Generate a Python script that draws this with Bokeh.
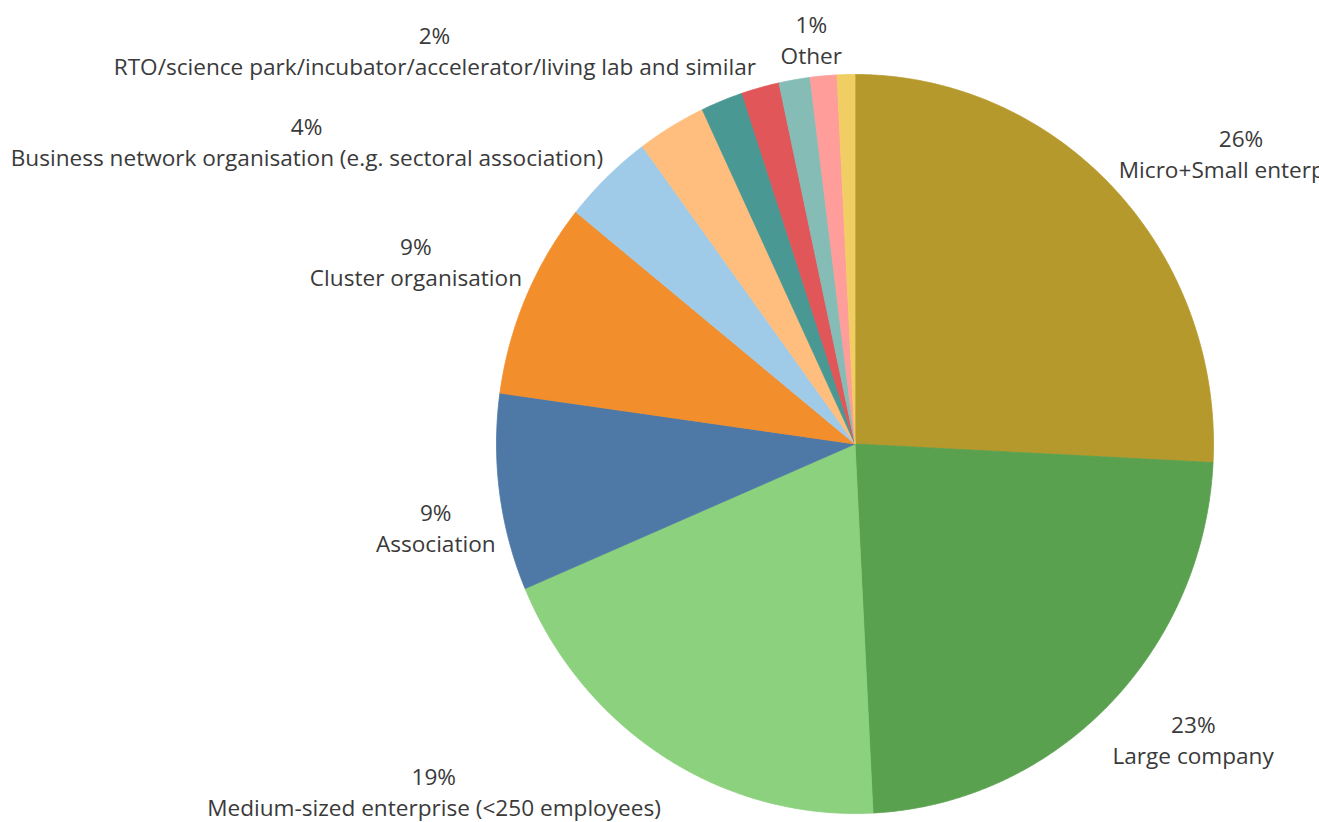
import math
from bokeh.plotting import figure
from bokeh.models import Range1d, ColumnDataSource
from bokeh.core.properties import value
from bokeh.embed import file_html
from bokeh.resources import INLINE

# ---------------- data ----------------
categories = [
    "Micro+Small enterprise",
    "Large company",
    "Medium-sized enterprise (<250 employees)",
    "Association",
    "Cluster organisation",
    "Business network organisation (e.g. sectoral association)",
    "Unlabelled category A",
    "RTO/science park/incubator/accelerator/living lab and similar",
    "Unlabelled category B",
    "Unlabelled category C",
    "Unlabelled category D",
    "Other",
]
shares = [25.8, 23.4, 19.4, 8.6, 8.6, 4.1, 3.1, 1.9, 1.7, 1.4, 1.2, 0.8]
label_visible = [True, True, True, True, True, True, False, True, False, False, False, True]
colors = ["#B6992D", "#59A14F", "#8CD17D", "#4E79A7", "#F28E2B", "#A0CBE8",
          "#FFBE7D", "#499894", "#E15759", "#86BCB6", "#FF9D9A", "#F1CE63"]

# ---------------- layout / style ----------------
W, H = 1319, 822
CX, CY = 854.5, 443.5          # pie centre (screen px)
RX, RY = 358.5, 369.5          # pie radii (screen px)
FONT = "Open Sans"
FS = 22.6
TEXT_COLOR = "#3a3a3a"
GAP_X = 4
TOP_GAP = 19.5      # anchor -> centre of name line (labels above centre)
BOTTOM_GAP = 19.5   # anchor -> centre of percentage line (labels below centre)
LINE = 31
NUDGE = {"RTO/science park/incubator/accelerator/living lab and similar": (38, -15)}

# approximate Open Sans advance widths (units per em = 2048)
ADV = {' ': 532, '%': 1700, '(': 596, ')': 596, '+': 1171, '.': 545, '/': 752, '<': 1171, '-': 659,
       'A': 1296, 'B': 1327, 'C': 1292, 'D': 1493, 'E': 1139, 'F': 1057, 'G': 1491, 'H': 1511,
       'I': 571, 'J': 547, 'K': 1257, 'L': 1083, 'M': 1849, 'N': 1563, 'O': 1599, 'P': 1225,
       'Q': 1599, 'R': 1276, 'S': 1104, 'T': 1147, 'U': 1503, 'V': 1237, 'W': 1901, 'X': 1198,
       'Y': 1157, 'Z': 1141,
       'a': 1139, 'b': 1255, 'c': 975, 'd': 1255, 'e': 1149, 'f': 694, 'g': 1122, 'h': 1257,
       'i': 518, 'j': 518, 'k': 1075, 'l': 518, 'm': 1905, 'n': 1257, 'o': 1237, 'p': 1255,
       'q': 1255, 'r': 836, 's': 977, 't': 723, 'u': 1257, 'v': 1026, 'w': 1593, 'x': 1073,
       'y': 1028, 'z': 977}


def text_width(s):
    return sum(ADV.get(ch, 1171) for ch in s) / 2048.0 * FS


def pct_text(v):
    return f"{int(math.floor(v + 0.5))}%"


p = figure(width=W, height=H, output_backend="svg", toolbar_location=None,
           x_range=Range1d(0, W), y_range=Range1d(H, 0), min_border=0)
p.axis.visible = False
p.grid.visible = False
p.outline_line_color = None
p.background_fill_color = "white"
p.border_fill_color = "white"

# ---------------- slices ----------------
total = float(sum(shares))
xs, ys = [], []
starts = []
cum = 0.0
for s in shares:
    a0 = cum / total * 2 * math.pi
    a1 = (cum + s) / total * 2 * math.pi
    starts.append(cum)
    n = max(4, int((a1 - a0) / math.radians(0.4)) + 1)
    px, py = [CX], [CY]
    for k in range(n + 1):
        t = a0 + (a1 - a0) * k / n
        px.append(CX + RX * math.sin(t))
        py.append(CY - RY * math.cos(t))
    xs.append(px)
    ys.append(py)
    cum += s

p.patches(xs=xs, ys=ys, fill_color=colors, line_color=colors, line_width=0.8)

# ---------------- labels ----------------
nx, ny, ntxt, nalign = [], [], [], []
qx, qy, qtxt = [], [], []
for cat, s, c0, vis in zip(categories, shares, starts, label_visible):
    if not vis:
        continue
    mid = (c0 + s / 2) / total * 2 * math.pi
    ax = CX + RX * math.sin(mid)
    ay = CY - RY * math.cos(mid)
    w = text_width(cat)
    if math.sin(mid) > 0:
        name_x = ax + GAP_X
        align = "left"
        pct_x = name_x + w / 2
    else:
        name_x = ax - GAP_X
        align = "right"
        pct_x = name_x - w / 2
    if math.cos(mid) > 0:
        name_y = ay - TOP_GAP
        pct_y = name_y - LINE
    else:
        pct_y = ay + BOTTOM_GAP
        name_y = pct_y + LINE
    dx, dy = NUDGE.get(cat, (0, 0))
    nx.append(name_x + dx); ny.append(name_y + dy); ntxt.append(cat); nalign.append(align)
    qx.append(pct_x + dx); qy.append(pct_y + dy); qtxt.append(pct_text(s / total * 100))

name_src = ColumnDataSource(dict(x=nx, y=ny, text=ntxt, align=nalign))
pct_src = ColumnDataSource(dict(x=qx, y=qy, text=qtxt))

p.text(x="x", y="y", text="text", source=name_src, text_align="align",
       text_baseline="middle", text_font=value(FONT), text_font_size=value(f"{FS}px"),
       text_color=TEXT_COLOR)
p.text(x="x", y="y", text="text", source=pct_src, text_align="center",
       text_baseline="middle", text_font=value(FONT), text_font_size=value(f"{FS}px"),
       text_color=TEXT_COLOR)

open("out.html", "w").write(file_html(p, INLINE))
